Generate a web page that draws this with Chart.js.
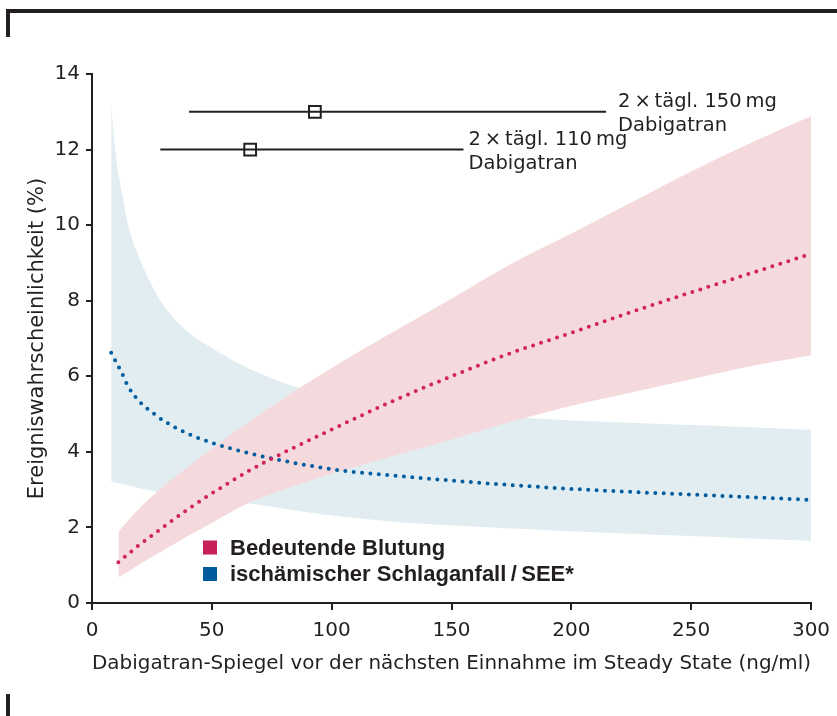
<!DOCTYPE html>
<html lang="de">
<head>
<meta charset="utf-8">
<title>Dabigatran-Spiegel und Ereigniswahrscheinlichkeit</title>
<script src="https://cdn.jsdelivr.net/npm/chart.js@4.4.1/dist/chart.umd.min.js"></script>
<style>
  html, body { margin: 0; padding: 0; background: #fff; }
  #wrap { position: relative; width: 837px; height: 716px; }
</style>
</head>
<body>
<div id="wrap"><canvas id="chart" width="837" height="716"></canvas></div>
<script>
// ---- data ----
// ischaemic stroke / SEE (x = trough concentration in ng/ml, y = %)
const strokeDose  = [8, 10, 12.5, 15, 20, 25, 30, 40, 50, 65, 85, 105, 125, 150, 175, 200, 225, 250, 275, 300];
const strokeRisk  = [6.62, 6.38, 6.08, 5.74, 5.32, 5.05, 4.82, 4.48, 4.24, 3.97, 3.70, 3.50, 3.38, 3.24, 3.12, 3.02, 2.94, 2.87, 2.80, 2.73];
const strokeUpper = [13.17, 11.81, 10.85, 10.02, 9.1, 8.4, 7.86, 7.18, 6.75, 6.22, 5.72, 5.45, 5.2, 5.05, 4.92, 4.83, 4.77, 4.71, 4.65, 4.58];
const strokeLower = [3.21, 3.18, 3.15, 3.11, 3.04, 2.97, 2.91, 2.82, 2.75, 2.64, 2.45, 2.28, 2.16, 2.05, 1.97, 1.90, 1.83, 1.77, 1.71, 1.65];

// major bleeding
const bleedDose  = [11, 15, 20, 30, 40, 50, 65, 80, 100, 125, 150, 175, 200, 225, 250, 275, 300];
const bleedRisk  = [1.08, 1.29, 1.55, 2.02, 2.48, 2.9, 3.48, 3.98, 4.59, 5.33, 6.0, 6.62, 7.15, 7.7, 8.22, 8.73, 9.24];
const bleedUpper = [1.88, 2.18, 2.52, 3.1, 3.6, 4.08, 4.78, 5.42, 6.22, 7.15, 8.05, 8.98, 9.78, 10.6, 11.42, 12.18, 12.88];
const bleedLower = [0.68, 0.83, 1.03, 1.4, 1.77, 2.12, 2.64, 3.0, 3.42, 3.88, 4.33, 4.8, 5.22, 5.57, 5.92, 6.27, 6.56];

// dosing regimens: range and median of trough levels
const regimenNames = [['2\u2009\u00d7\u2009t\u00e4gl. 110\u2009mg', 'Dabigatran'], ['2\u2009\u00d7\u2009t\u00e4gl. 150\u2009mg', 'Dabigatran']];
const regimenLevel = [12, 13];
const regimenLow   = [28.5, 40.5];
const regimenHigh  = [155, 214.5];
const regimenMid   = [66, 93];

const seriesNames = ['Bedeutende Blutung', 'isch\u00e4mischer Schlaganfall\u2009/\u2009SEE*'];
const xTicks = [0, 50, 100, 150, 200, 250, 300];
const yTicks = [0, 2, 4, 6, 8, 10, 12, 14];
const xTitle = 'Dabigatran-Spiegel vor der n\u00e4chsten Einnahme im Steady State (ng/ml)';
const yTitle = 'Ereigniswahrscheinlichkeit (%)';

// ---- styles ----
const ink = '#231f20';
const pinkDot = '#d2235f';
const blueDot = '#005da0';
const legendColors = ['#c8205a', '#005a9c'];
const bandPink = '#f4dadc';
const bandBlue = '#e1edf1';
const FONT = '"DejaVu Sans", sans-serif';

function pts(xs, ys) {
    return xs.map((x, i) => ({ x: x, y: ys[i] }));
}

const bandStyle = { borderWidth: 0, pointRadius: 0, cubicInterpolationMode: 'monotone' };
const dotStyle = {
    borderWidth: 4,
    borderDash: [0, 8.4],
    borderCapStyle: 'round',
    pointRadius: 0,
    fill: false,
    clip: false,
    cubicInterpolationMode: 'monotone'
};

// frame rules of the printed figure
const framePlugin = {
    id: 'frame',
    beforeDraw(chart) {
        const ctx = chart.ctx;
        ctx.save();
        ctx.fillStyle = '#fff';
        ctx.fillRect(0, 0, chart.width, chart.height);
        ctx.fillStyle = ink;
        ctx.fillRect(6, 9, chart.width - 6, 4);
        ctx.fillRect(6, 9, 4, 28);
        ctx.fillRect(6, 694, 4, 22);
        ctx.restore();
    }
};

// text next to the regimen bars
const labelGap = [5, 12];
const regimenLabelPlugin = {
    id: 'regimenLabels',
    afterDatasetsDraw(chart) {
        const { ctx, scales: { x, y } } = chart;
        ctx.save();
        ctx.fillStyle = ink;
        ctx.font = '19.5px ' + FONT;
        ctx.textBaseline = 'middle';
        ctx.textAlign = 'left';
        regimenNames.forEach((lines, i) => {
            const px = x.getPixelForValue(regimenHigh[i]) + labelGap[i];
            const py = y.getPixelForValue(regimenLevel[i]);
            ctx.fillText(lines[0], px, py - 10);
            ctx.fillText(lines[1], px, py + 14);
        });
        ctx.restore();
    }
};

// legend inside the plot
const legendPlugin = {
    id: 'innerLegend',
    afterDatasetsDraw(chart) {
        const ctx = chart.ctx;
        const left = 203, rows = [547.5, 574], box = 14;
        ctx.save();
        ctx.font = 'bold 22px "Liberation Sans", sans-serif';
        ctx.textBaseline = 'middle';
        ctx.textAlign = 'left';
        seriesNames.forEach((name, i) => {
            ctx.fillStyle = legendColors[i];
            ctx.fillRect(left, rows[i] - box / 2, box, box);
            ctx.fillStyle = ink;
            ctx.fillText(name, left + box + 13, rows[i] + 1);
        });
        ctx.restore();
    }
};

const axisCommon = {
    border: { display: true, color: ink, width: 2 },
    grid: { display: true, drawOnChartArea: false, drawTicks: true, color: ink, lineWidth: 2 }
};

new Chart(document.getElementById('chart'), {
    type: 'line',
    data: {
        datasets: [
            { label: 'stroke upper', data: pts(strokeDose, strokeUpper), fill: '+1', backgroundColor: bandBlue, order: 6, ...bandStyle },
            { label: 'stroke lower', data: pts(strokeDose, strokeLower), fill: false, order: 6, ...bandStyle },
            { label: 'bleed upper', data: pts(bleedDose, bleedUpper), fill: '+1', backgroundColor: bandPink, order: 5, ...bandStyle },
            { label: 'bleed lower', data: pts(bleedDose, bleedLower), fill: false, order: 5, ...bandStyle },
            { label: seriesNames[1], data: pts(strokeDose, strokeRisk), borderColor: blueDot, order: 4, ...dotStyle },
            { label: seriesNames[0], data: pts(bleedDose, bleedRisk), borderColor: pinkDot, order: 3, ...dotStyle },
            ...regimenLevel.map((lv, i) => ({
                label: regimenNames[i][0],
                data: [{ x: regimenLow[i], y: lv }, { x: regimenHigh[i], y: lv }],
                borderColor: ink,
                borderWidth: 2,
                pointRadius: 0,
                fill: false,
                order: 2
            })),
            {
                type: 'scatter',
                label: 'Median',
                data: regimenMid.map((x, i) => ({ x: x, y: regimenLevel[i] })),
                pointStyle: 'rect',
                pointRadius: 8.3,
                pointBorderWidth: 2,
                pointBorderColor: ink,
                pointBackgroundColor: 'rgba(0,0,0,0)',
                order: 1
            }
        ]
    },
    options: {
        responsive: false,
        animation: false,
        events: [],
        layout: { padding: { top: 74, right: 26, bottom: 0, left: 0 } },
        plugins: {
            legend: { display: false },
            tooltip: { enabled: false }
        },
        scales: {
            x: {
                type: 'linear',
                min: 0,
                max: 300,
                afterBuildTicks: s => { s.ticks = xTicks.map(v => ({ value: v })); },
                afterFit: s => { s.height = 113; s.paddingLeft = 0; s.paddingRight = 0; },
                ...axisCommon,
                grid: { ...axisCommon.grid, tickLength: 7 },
                ticks: { color: ink, font: { family: FONT, size: 20 }, padding: 9, maxRotation: 0 },
                title: { display: true, text: xTitle, color: ink, font: { family: FONT, size: 20 }, padding: { top: 0, bottom: 40 } }
            },
            y: {
                min: 0,
                max: 14,
                afterBuildTicks: s => { s.ticks = yTicks.map(v => ({ value: v })); },
                afterFit: s => { s.width = 92; },
                ...axisCommon,
                grid: { ...axisCommon.grid, tickLength: 6 },
                ticks: { color: ink, font: { family: FONT, size: 20 }, padding: 6 },
                title: { display: true, text: yTitle, color: ink, font: { family: FONT, size: 21 }, padding: { top: 25, bottom: 0 } }
            }
        }
    },
    plugins: [framePlugin, regimenLabelPlugin, legendPlugin]
});
</script>
</body>
</html>
